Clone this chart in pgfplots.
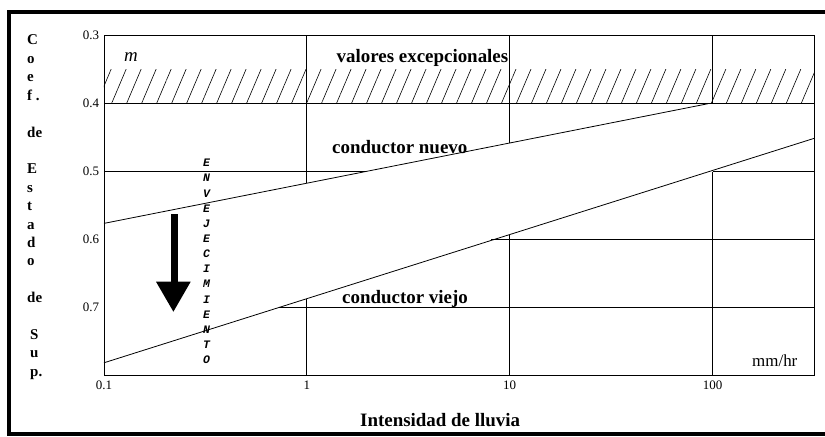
\documentclass[border=0pt]{standalone}
\usepackage{pgfplots}
\pgfplotsset{compat=1.18}
\usepackage{fontspec}
\setmainfont{Liberation Serif}
\setmonofont{Liberation Mono}
\usetikzlibrary{patterns.meta}
\begin{document}
\begin{tikzpicture}
\useasboundingbox (0,0) rectangle (825bp,437bp);
\begin{axis}[
  at={(104bp,61.3bp)}, anchor=south west,
  scale only axis, width=710bp, height=340bp,
  xmode=log, xmin=0.1, xmax=316.23,
  ymin=0.3, ymax=0.8, y dir=reverse,
  xtick={0.1,1,10,100}, xticklabels={0.1,1,10,100},
  ytick={0.3,0.4,0.5,0.6,0.7}, yticklabels={0.3,0.4,0.5,0.6,0.7},
  minor xtick={}, minor ytick={},
  major tick length=0pt, tick style={draw=none},
  axis line style={line width=0.9bp},
  ticklabel style={font=\fontsize{13}{13}\selectfont},
  yticklabel style={xshift=-1.5bp},
  xticklabel style={yshift=-2bp},
  /pgf/number format/assume math mode=true,
]
% hatched band of exceptional values
\addplot[draw=none, pattern={Lines[angle=67, distance=13.8bp, line width=0.6bp]}]
  coordinates {(0.1,0.35) (316.23,0.35) (316.23,0.4) (0.1,0.4)} -- cycle;
% partial grid segments
\addplot[black, line width=1bp] coordinates {(0.1,0.4) (316.23,0.4)};
\addplot[black, line width=0.8bp] coordinates {(0.1,0.5) (1.93,0.5)};
\addplot[black, line width=0.8bp] coordinates {(100,0.5) (316.23,0.5)};
\addplot[black, line width=0.8bp] coordinates {(8.1,0.6) (316.23,0.6)};
\addplot[black, line width=0.8bp] coordinates {(0.73,0.7) (316.23,0.7)};
\addplot[black, line width=0.8bp] coordinates {(1,0.3) (1,0.517)};
\addplot[black, line width=0.8bp] coordinates {(1,0.687) (1,0.8)};
\addplot[black, line width=0.8bp] coordinates {(10,0.3) (10,0.458)};
\addplot[black, line width=0.8bp] coordinates {(10,0.593) (10,0.8)};
\addplot[black, line width=0.8bp] coordinates {(100,0.3) (100,0.4)};
\addplot[black, line width=0.8bp] coordinates {(100,0.5) (100,0.8)};
% conductor nuevo
\addplot[black, line width=0.8bp] coordinates {(0.1,0.576) (95,0.4)};
% conductor viejo
\addplot[black, line width=0.8bp] coordinates {(0.1,0.781) (316.23,0.451)};
\end{axis}
% outer frame
\draw[line width=4bp] (825bp,425bp) -- (8.5bp,425bp) -- (8.5bp,3bp) -- (825bp,3bp);
% texts
\node[anchor=base west, inner sep=0, font=\fontsize{19}{19}\selectfont\itshape] at (124bp,375bp) {m};
\node[anchor=base west, inner sep=0, font=\fontsize{19}{19}\selectfont\bfseries] at (336.5bp,374.7bp) {valores excepcionales};
\node[anchor=base west, inner sep=0, font=\fontsize{19}{19}\selectfont\bfseries] at (332bp,283.5bp) {conductor nuevo};
\node[anchor=base west, inner sep=0, font=\fontsize{19}{19}\selectfont\bfseries] at (342bp,133.7bp) {conductor viejo};
\node[anchor=base west, inner sep=0, font=\fontsize{19}{19}\selectfont\bfseries] at (360bp,10.3bp) {Intensidad de lluvia};
\node[anchor=base west, inner sep=0, font=\fontsize{17}{17}\selectfont] at (752bp,70.5bp) {mm/hr};
% vertical y label
\foreach \t [count=\k from 0] in {C,o,e,f .,{},de,{},E,s,t,a,d,o,{},de,{}} {
  \node[anchor=base west, inner sep=0, font=\fontsize{15}{15}\selectfont\bfseries] at (27bp,{(437-45-18.4*\k)*1bp}) {\t};
}
\foreach \t [count=\k from 16] in {S,u,p.} {
  \node[anchor=base west, inner sep=0, font=\fontsize{15}{15}\selectfont\bfseries] at (30bp,{(437-45-18.4*\k)*1bp}) {\t};
}
% ENVEJECIMIENTO
\foreach \t [count=\k from 0] in {E,N,V,E,J,E,C,I,M,I,E,N,T,O} {
  \node[inner sep=0, font=\fontsize{11.5}{11.5}\selectfont\ttfamily\bfseries\itshape] at (206.5bp,{(437-163-15.15*\k)*1bp}) {\t};
}
% arrow
\fill (170.7bp,223bp) rectangle (177.7bp,155bp);
\fill (156bp,155.3bp) -- (190.7bp,155.3bp) -- (173.4bp,125.3bp) -- cycle;
\end{tikzpicture}
\end{document}
